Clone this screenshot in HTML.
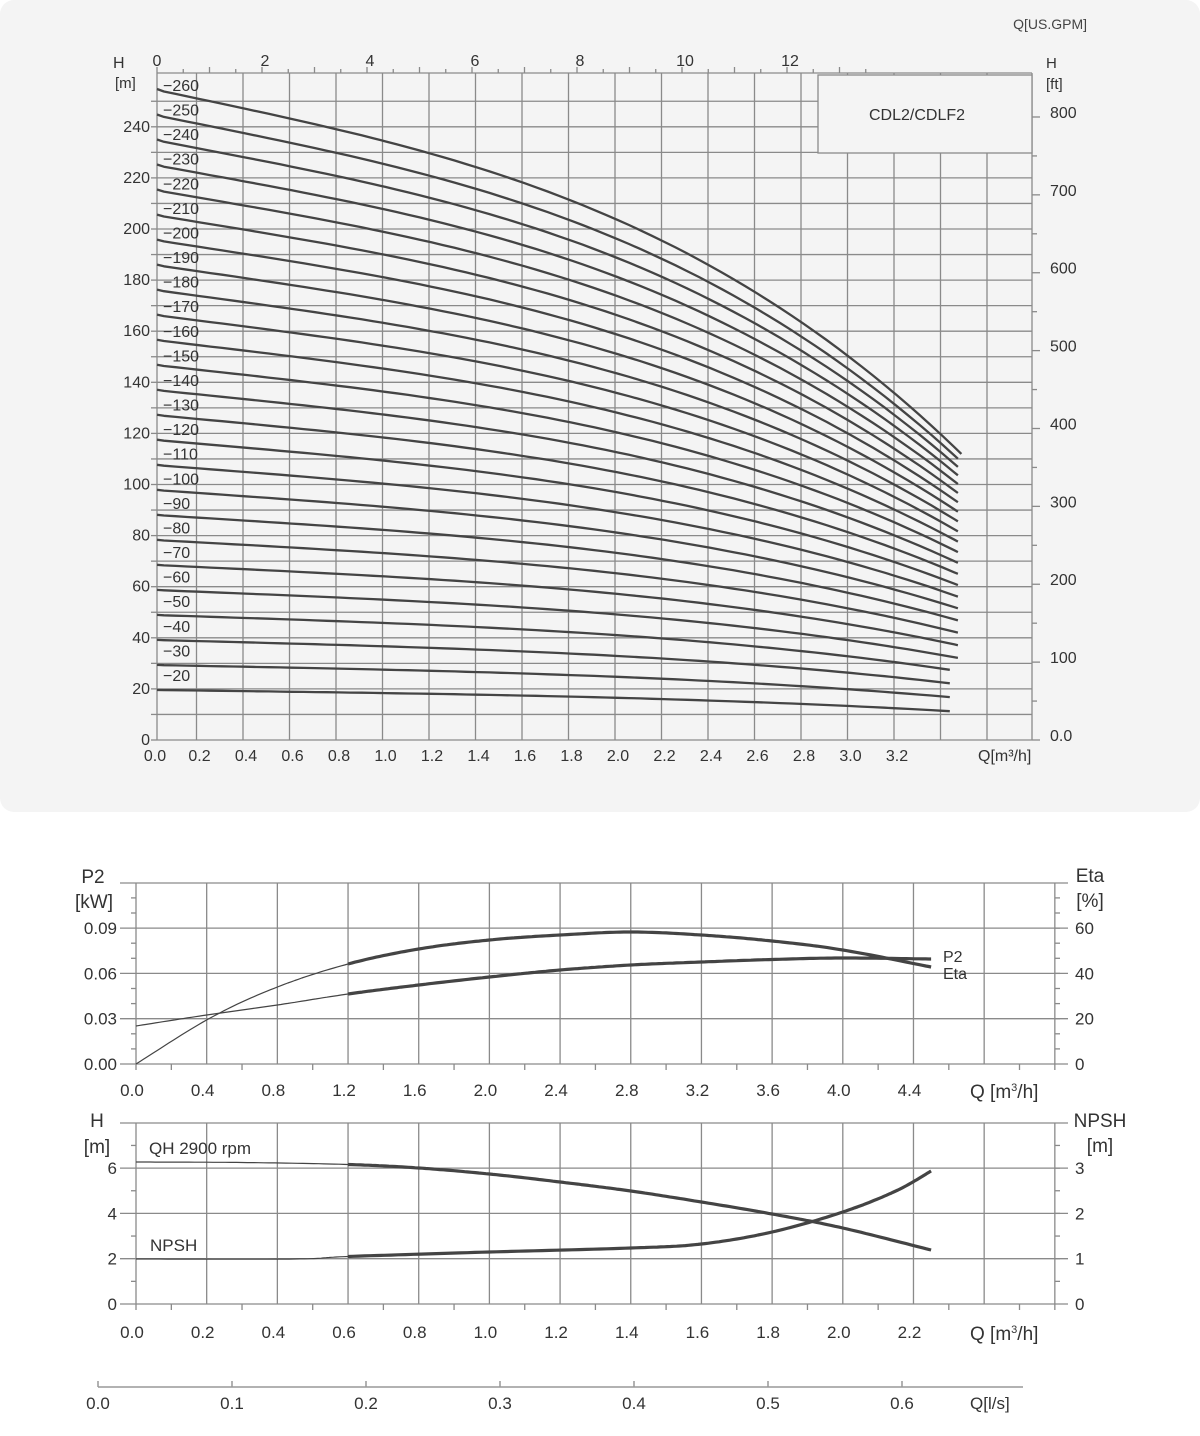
<!DOCTYPE html>
<html><head><meta charset="utf-8"><style>
html,body{margin:0;padding:0;background:#fff;}
svg{display:block;font-family:"Liberation Sans",sans-serif;}
</style></head><body>
<svg id="s" width="1200" height="1436" viewBox="0 0 1200 1436" xmlns="http://www.w3.org/2000/svg">
<rect x="0" y="0" width="1200" height="812" rx="14" fill="#f4f4f4"/>
<g id="g"></g>
</svg>
<script>
var g=document.getElementById('g'),out='';
function L(x1,y1,x2,y2,w,c){out+='<line x1="'+x1+'" y1="'+y1+'" x2="'+x2+'" y2="'+y2+'" stroke="'+(c||'#8a8a8a')+'" stroke-width="'+(w||1.3)+'"/>';}
function T(x,y,t,s,a,c){out+='<text x="'+x+'" y="'+y+'" font-size="'+(s||15)+'" fill="'+(c||'#333')+'" text-anchor="'+(a||'start')+'">'+t+'</text>';}
function P(pts,w){var d='M'+pts.map(function(p){return p[0].toFixed(1)+','+p[1].toFixed(1)}).join(' L');out+='<path d="'+d+'" fill="none" stroke="#444" stroke-width="'+w+'" stroke-linejoin="round" stroke-linecap="butt"/>';}
// ---------- TOP CHART ----------
var X0=157,XR=1032,YT=73,YB=740;
function ty(h){return 740-2.555*h;}
function tx(q){return Math.max(157,150+232.5*q);}
for(var h=0;h<=250;h+=10){L(X0,ty(h),XR,ty(h));}
L(X0,YT,XR,YT);
for(var i=1;i<=18;i++){L(150+46.5*i,YT,150+46.5*i,YB);}
L(X0,YT,X0,YB);L(XR,YT,XR,YB);
for(var h=0;h<=250;h+=10){L(151,ty(h),X0,ty(h));}
for(var h=0;h<=240;h+=20){T(150,ty(h)+5,h,16,'end');}
var qs=['0.0','0.2','0.4','0.6','0.8','1.0','1.2','1.4','1.6','1.8','2.0','2.2','2.4','2.6','2.8','3.0','3.2'];
for(var i=0;i<qs.length;i++){var x=i==0?155:150+46.5*i+3;T(x,761,qs[i],16,'middle');}
T(978,761,'Q[m³/h]',16,'start');
for(var k=0;k<=27;k++){var x=157+26.25*k;if(x>XR)break;L(x,YT,x,YT-(k%2==0?6:4));}
for(var k=0;k<=12;k+=2){T(157+52.5*k+(k?3:0),66,k,16,'middle');}
T(1087,29,'Q[US.GPM]',14,'end','#444');
for(var f=0;f<=800;f+=50){var y=740-2.555*f*0.3048;L(XR,y,XR+(f%100==0?8:5),y);}
for(var f=0;f<=800;f+=100){var y=740-2.555*f*0.3048;T(1050,y+1,f==0?'0.0':f,16,'start');}
T(1046,68,'H',15);T(1046,89,'[ft]',15);
T(113,68,'H',16);T(115,88,'[m]',15);
out+='<rect x="818" y="75" width="214" height="78" fill="#f4f4f4" stroke="#8a8a8a" stroke-width="1.3"/>';
T(917,120,'CDL2/CDLF2',16,'middle');
for(var n=20;n<=260;n+=10){
  var H0=n*0.98; if(n==260)H0=255;
  var k=0.78+0.22*(n-20)/240;
  var qe=n==260?3.49:(n<60?3.44:3.475);
  var pts=[];
  for(var q=0.01;q<=qe+0.001;q+=0.05){var qq=Math.min(q,qe);var f=1-(0.0767*qq-0.005*qq*qq+0.00833*qq*qq*qq);f=1-k*(1-f);pts.push([tx(qq),ty(H0*f)]);}
  pts.push([tx(qe),ty(H0*(1-k*(0.0767*qe-0.005*qe*qe+0.00833*qe*qe*qe)))]);
  P(pts,2.3);
  var ly=86+(260-n)/10*24.58;
  T(163,ly+5,'−'+n,16,'start');
}
// spline helper (Catmull-Rom)
function spline(arr,fx){var p=[];var n=arr.length;for(var i=0;i<n-1;i++){var p0=arr[Math.max(0,i-1)],p1=arr[i],p2=arr[i+1],p3=arr[Math.min(n-1,i+2)];for(var t=0;t<1;t+=0.05){var t2=t*t,t3=t2*t;var x=0.5*((2*p1[0])+(-p0[0]+p2[0])*t+(2*p0[0]-5*p1[0]+4*p2[0]-p3[0])*t2+(-p0[0]+3*p1[0]-3*p2[0]+p3[0])*t3);var y=0.5*((2*p1[1])+(-p0[1]+p2[1])*t+(2*p0[1]-5*p1[1]+4*p2[1]-p3[1])*t2+(-p0[1]+3*p1[1]-3*p2[1]+p3[1])*t3);p.push([fx(x),y]);}}var l=arr[n-1];p.push([fx(l[0]),l[1]]);return p;}
function split(pts,xs,thin,thick){var a=pts.filter(function(p){return p[0]<=xs+0.5}),b=pts.filter(function(p){return p[0]>=xs-0.5});P(a,thin);P(b,thick);}
// ---------- P2 / ETA CHART ----------
function bx(q){return 136+176.7*q;}
function py(v){return 1064-v*1510;}
var BT=883,BB=1064,BR=1055;
L(120,BT,1068,BT);
for(var v=0.03;v<0.1;v+=0.03){L(120,py(v),1068,py(v));}
L(120,BB,1068,BB);
for(var i=0;i<=13;i++){L(bx(i*0.4),BT,bx(i*0.4),BB+(i==0||i==13?6:0));}
for(var i=0;i<13;i++){L(bx(i*0.4+0.2),BB,bx(i*0.4+0.2),BB+6);}
for(var j=1;j<12;j++){if(j%3)L(131,BB-j*15.1,136,BB-j*15.1);L(BR,BB-j*15.1,BR+5,BB-j*15.1);}
['0.00','0.03','0.06','0.09'].forEach(function(t,i){T(117,py(i*0.03)+6,t,17,'end');});
['0','20','40','60'].forEach(function(t,i){T(1075,py(i*0.03)+6,t,17,'start');});
for(var i=0;i<=11;i++){T(bx(i*0.4)-4,1096,(i*0.4).toFixed(1),17,'middle');}
T(970,1098,'Q [m<tspan font-size="11" dy="-7">3</tspan><tspan dy="7">/h]</tspan>',19,'start');
T(93,883,'P2',19,'middle');T(94,908,'[kW]',19,'middle');
T(1090,882,'Eta',19,'middle');T(1090,907,'[%]',19,'middle');
var eta=[[0,1064],[0.42,1018],[0.8,987],[1.2,964],[1.6,949],[2,940],[2.4,935],[2.8,932],[3.2,935],[3.6,941],[4,950],[4.5,967]];
var p2=[[0,1026],[0.4,1015],[0.8,1005],[1.2,994],[1.6,985],[2,977],[2.4,970],[2.8,965],[3.2,962],[3.6,959.5],[4,958],[4.5,959]];
split(spline(eta,bx),bx(1.2),1.2,3.2);
split(spline(p2,bx),bx(1.2),1.2,3.2);
T(943,962,'P2',16);T(943,979,'Eta',16);
// ---------- QH / NPSH CHART ----------
function hx(q){return 136+353.4*q;}
function hy(v){return 1304-v*22.65;}
var HT=1123,HB=1304;
L(120,HT,1068,HT);
for(var v=2;v<=6;v+=2)L(120,hy(v),1068,hy(v));
L(120,HB,1068,HB);
for(var i=0;i<=13;i++){L(hx(i*0.2),HT,hx(i*0.2),HB+(i==0||i==13?6:0));}
for(var i=0;i<13;i++){L(hx(i*0.2+0.1),HB,hx(i*0.2+0.1),HB+6);}
for(var j=1;j<8;j+=2){L(131,hy(j),136,hy(j));}
for(var j=1;j<8;j++){L(BR,HB-j*22.65,BR+5,HB-j*22.65);}
['0','2','4','6'].forEach(function(t,i){T(117,hy(i*2)+6,t,17,'end');});
['0','1','2','3'].forEach(function(t,i){T(1075,hy(i*2)+6,t,17,'start');});
for(var i=0;i<=11;i++){T(hx(i*0.2)-4,1338,(i*0.2).toFixed(1),17,'middle');}
T(970,1340,'Q [m<tspan font-size="11" dy="-7">3</tspan><tspan dy="7">/h]</tspan>',19,'start');
T(97,1127,'H',19,'middle');T(97,1153,'[m]',19,'middle');
T(1100,1127,'NPSH',19,'middle');T(1100,1152,'[m]',19,'middle');
T(149,1154,'QH 2900 rpm',17);T(150,1251,'NPSH',17);
var qh=[[0,1162],[0.3,1162.5],[0.6,1164.5],[0.8,1168],[1,1174],[1.2,1182],[1.4,1191],[1.6,1202],[1.8,1214],[2,1228],[2.25,1250]];
var np=[[0,1259],[0.45,1259],[0.6,1256.5],[1,1252],[1.4,1248],[1.6,1244],[1.8,1232],[2,1212],[2.15,1191],[2.25,1171]];
split(spline(qh,hx),hx(0.6),1.2,3.2);
split(spline(np,hx),hx(0.6),1.2,3.2);
// ---------- l/s axis ----------
L(98,1387,1023,1387,1.5,'#999');
for(var i=0;i<=6;i++){var x=98+1340*i/10;L(x,1381,x,1387,1.5,'#999');T(x,1409,(i/10).toFixed(1),17,'middle');}
T(970,1409,'Q[l/s]',17);
g.innerHTML=out;
</script>
</body></html>
